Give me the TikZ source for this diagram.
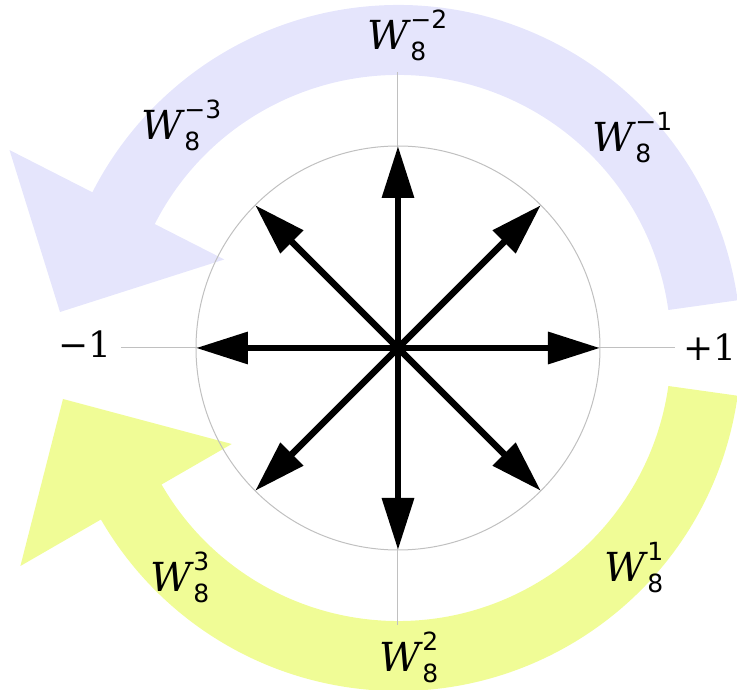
\documentclass[tikz,border=0pt]{standalone}
\usepackage{fontspec}
\setmainfont{DejaVu Serif}
\newfontfamily\scrfont{DejaVu Sans}
\usetikzlibrary{arrows.meta}
\definecolor{bandblue}{RGB}{229,229,252}
\definecolor{bandyellow}{RGB}{240,252,150}
\definecolor{axisgray}{RGB}{192,192,192}
\newcommand\Wlab[1]{{\fontsize{40}{42}\selectfont\itshape W}\kern2pt{\fontsize{25}{27}\selectfont\scrfont\ooalign{\raisebox{21pt}{#1}\cr\raisebox{-11pt}{8}\cr}}}
\tikzset{
  band/.style={draw=none},
  axisline/.style={draw=axisgray, line width=1pt},
  vec/.style={line width=6.5pt, -{Triangle[length=52pt, width=31pt]}},
  lab/.style={anchor=base west, inner sep=0pt},
  numlab/.style={anchor=base west, inner sep=0pt, font=\fontsize{36}{40}\selectfont},
}
\begin{document}
\begin{tikzpicture}[x=1pt,y=1pt]
\useasboundingbox (-398,-342) rectangle (339,348);
% bands
\fill[bandblue] (8:273) -- (8:343) arc[start angle=8, end angle=153, radius=343]
  -- (153:436) -- (-338,36) -- (153:195) -- (153:273)
  arc[start angle=153, end angle=8, radius=273] -- cycle;
\fill[bandyellow] (-8:273) -- (-8:343) arc[start angle=-8, end angle=-150, radius=343]
  -- (-150:436) -- (-335,-51) -- (-150:192) -- (-150:273)
  arc[start angle=-150, end angle=-8, radius=273] -- cycle;
% axes
\coordinate (O) at (0,0);
\coordinate (xl) at (-277,0);
\coordinate (xr) at (277,0);
\coordinate (yt) at (0,276);
\coordinate (yb) at (0,-277);
\draw[axisline] (xl) -- (xr);
\draw[axisline] (yb) -- (yt);
\draw[axisline] (O) circle[radius=202];
% vectors
\foreach \a in {0,45,...,315} {
  \coordinate (t\a) at (\a:202);
  \draw[vec] (O) -- (t\a);
}
% labels
\node[lab] (wm2) at (-31,298) {\Wlab{−2}};
\node[lab] (wm1) at (194,196) {\Wlab{−1}};
\node[lab] (wm3) at (-257,208) {\Wlab{−3}};
\node[lab] (w1) at (206,-234) {\Wlab{1}};
\node[lab] (w3) at (-248,-244) {\Wlab{3}};
\node[lab] (w2) at (-19,-324) {\Wlab{2}};
\node[numlab] (m1) at (-340,-10) {−1};
\node[numlab] (p1) at (285,-13) {+1};
\end{tikzpicture}
\end{document}
